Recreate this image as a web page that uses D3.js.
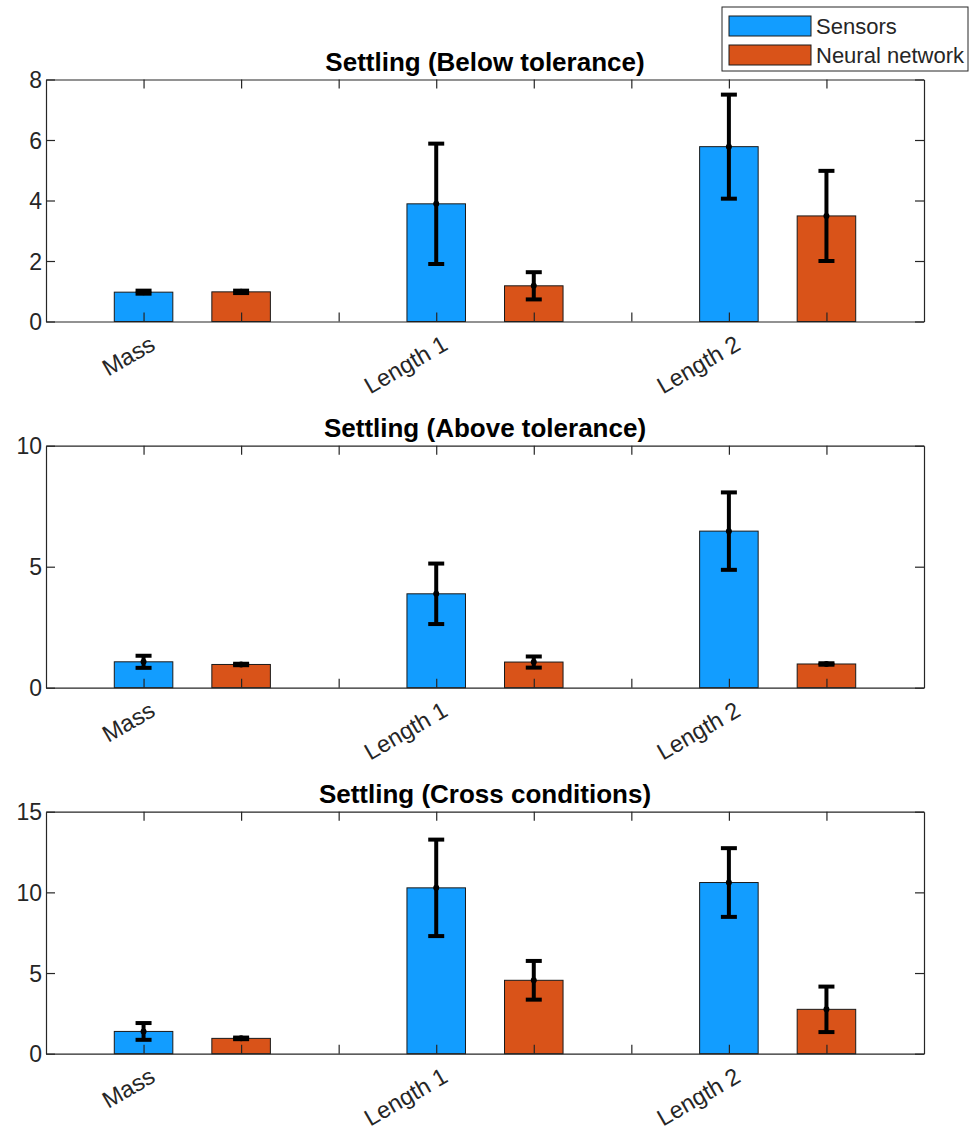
<!DOCTYPE html>
<meta charset="utf-8">
<body style="margin:0;background-color:white;">
<svg width="978" height="1132"></svg>
<script src="https://d3js.org/d3.v7.min.js"></script>
<script>

// data
var categories = ["Mass", "Length 1", "Length 2"];
var seriesNames = ["Sensors", "Neural network"];
var panelTitles = ["Settling (Below tolerance)", "Settling (Above tolerance)", "Settling (Cross conditions)"];

var sensorMeans = [[0.97, 3.89, 5.78], [1.07, 3.88, 6.47], [1.38, 10.28, 10.61]];
var sensorErr   = [[0.05, 1.99, 1.72], [0.25, 1.25, 1.60], [0.52, 2.99, 2.13]];
var nnMeans     = [[0.98, 1.18, 3.49], [0.96, 1.06, 0.98], [0.95, 4.55, 2.75]];
var nnErr       = [[0.04, 0.45, 1.49], [0.03, 0.23, 0.03], [0.05, 1.20, 1.41]];

var yMax   = [8, 10, 15];
var yTicks = [[0, 2, 4, 6, 8], [0, 5, 10], [0, 5, 10, 15]];

var colors = ["#129dff", "#d95319"];
var axisClr = "#262626";

var svg = d3.select("svg");
var fontFam = "'Liberation Sans', Arial, sans-serif";

var left = 46, right = 924, plotH = 242;
var panelTops = [79.5, 445.7, 811.7];

// x: slot 0..9, sensors at 1+3i, network at 2+3i
var x = d3.scaleLinear().domain([0, 9]).range([left, right]);
var barW = (x(1) - x(0)) * 0.6;

panelTitles.forEach(function(title, p) {
	var top = panelTops[p];
	var y = d3.scaleLinear().domain([0, yMax[p]]).range([top + plotH, top]);
	var g = svg.append('g');

	var rows = [];
	categories.forEach(function(c, i) {
		rows.push({slot: 1 + 3*i, mean: sensorMeans[p][i], err: sensorErr[p][i], s: 0});
		rows.push({slot: 2 + 3*i, mean: nnMeans[p][i], err: nnErr[p][i], s: 1});
	});

	// bars
	g.selectAll('rect.bar').data(rows).enter().append('rect')
		.attr('class', 'bar')
		.attr('x', function(d) { return x(d.slot) - barW/2; })
		.attr('y', function(d) { return y(d.mean); })
		.attr('width', barW)
		.attr('height', function(d) { return y(0) - y(d.mean); })
		.attr('fill', function(d) { return colors[d.s]; })
		.attr('stroke', '#1a1a1a')
		.attr('stroke-width', 1);

	// axes (ticks inward on all four sides)
	var xTickVals = d3.range(1, 9);
	var bottomAxis = g.append('g').attr('transform', 'translate(0,' + (top + plotH) + ')')
		.call(d3.axisBottom(x).tickValues(xTickVals).tickSizeInner(-9).tickSizeOuter(0).tickFormat(''));
	var topAxis = g.append('g').attr('transform', 'translate(0,' + top + ')')
		.call(d3.axisTop(x).tickValues(xTickVals).tickSizeInner(-9).tickSizeOuter(0).tickFormat(''));
	var leftAxis = g.append('g').attr('transform', 'translate(' + left + ',0)')
		.call(d3.axisLeft(y).tickValues(yTicks[p]).tickSizeInner(-9).tickSizeOuter(0).tickPadding(4));
	var rightAxis = g.append('g').attr('transform', 'translate(' + right + ',0)')
		.call(d3.axisRight(y).tickValues(yTicks[p]).tickSizeInner(-9).tickSizeOuter(0).tickFormat(''));

	[bottomAxis, topAxis, leftAxis, rightAxis].forEach(function(a) {
		a.selectAll('path.domain').attr('stroke', axisClr).attr('stroke-width', 1.2);
		a.selectAll('line').attr('stroke', axisClr).attr('stroke-width', 1.2);
	});
	leftAxis.selectAll('text')
		.attr('font-family', fontFam).attr('font-size', 23).attr('fill', axisClr)
		.attr('dy', '0.36em');

	// category labels, rotated
	g.selectAll('text.cat').data(categories).enter().append('text')
		.attr('class', 'cat')
		.attr('transform', function(d, i) {
			return 'translate(' + (x(1 + 3*i) + 5) + ',' + (top + plotH + 13) + ')rotate(-30)';
		})
		.attr('text-anchor', 'end')
		.attr('dy', '0.7em')
		.attr('font-family', fontFam).attr('font-size', 23.5).attr('fill', axisClr)
		.text(function(d) { return d; });

	// error bars
	var eb = g.selectAll('g.err').data(rows).enter().append('g').attr('class', 'err');
	eb.append('line')
		.attr('x1', function(d) { return x(d.slot); })
		.attr('x2', function(d) { return x(d.slot); })
		.attr('y1', function(d) { return y(d.mean - d.err); })
		.attr('y2', function(d) { return y(d.mean + d.err); })
		.attr('stroke', 'black').attr('stroke-width', 4);
	[-1, 1].forEach(function(sign) {
		eb.append('line')
			.attr('x1', function(d) { return x(d.slot) - 8; })
			.attr('x2', function(d) { return x(d.slot) + 8; })
			.attr('y1', function(d) { return y(d.mean + sign*d.err); })
			.attr('y2', function(d) { return y(d.mean + sign*d.err); })
			.attr('stroke', 'black').attr('stroke-width', 4);
	});
	eb.append('circle')
		.attr('cx', function(d) { return x(d.slot); })
		.attr('cy', function(d) { return y(d.mean); })
		.attr('r', 3)
		.attr('fill', 'black');

	// title
	g.append('text')
		.attr('x', (left + right) / 2)
		.attr('y', top - 9)
		.attr('text-anchor', 'middle')
		.attr('font-family', fontFam).attr('font-size', 26).attr('font-weight', 'bold')
		.attr('fill', 'black')
		.text(title);
});

// legend
var legend = svg.append('g');
legend.append('rect')
	.attr('x', 722).attr('y', 7).attr('width', 246).attr('height', 64)
	.attr('fill', 'white').attr('stroke', axisClr).attr('stroke-width', 1);
seriesNames.forEach(function(name, i) {
	legend.append('rect')
		.attr('x', 729).attr('y', 16 + i*29).attr('width', 82).attr('height', 20)
		.attr('fill', colors[i]).attr('stroke', '#1a1a1a').attr('stroke-width', 1);
	legend.append('text')
		.attr('x', 816).attr('y', 26 + i*29)
		.attr('dy', '0.36em')
		.attr('font-family', fontFam).attr('font-size', 22).attr('fill', axisClr)
		.text(name);
});

</script>
</body>
